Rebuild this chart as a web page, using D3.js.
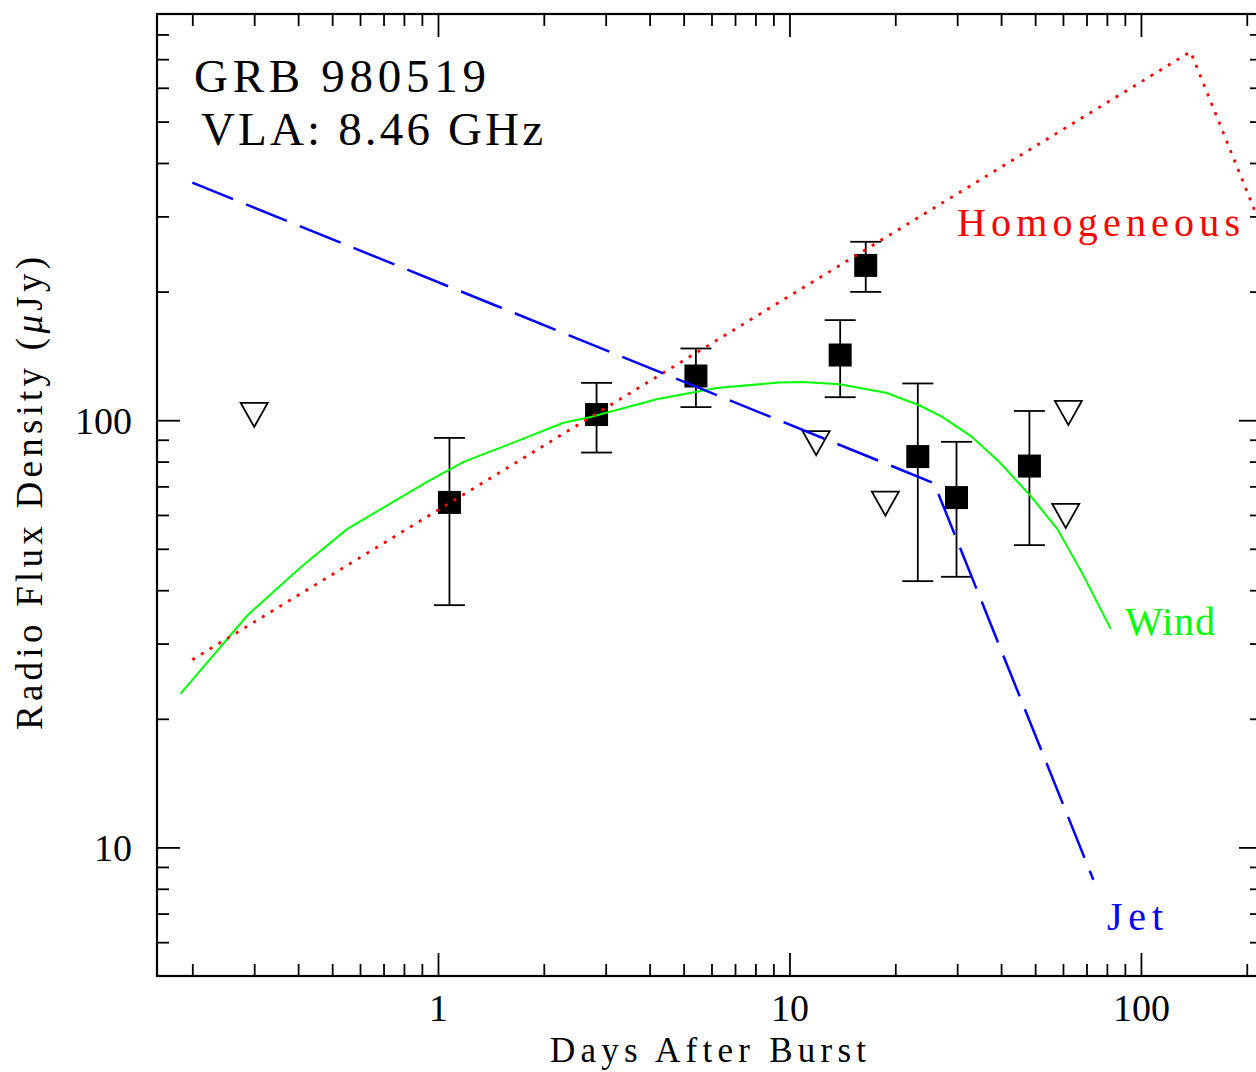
<!DOCTYPE html>
<html><head><meta charset="utf-8">
<script src="https://cdn.jsdelivr.net/npm/d3@7"></script>
<style>body{margin:0;background:#fff;overflow:hidden;} svg{display:block;}</style>
</head><body>
<svg id="c" width="1256" height="1072"></svg>
<script>
// ---- data (days after burst, flux density in microJy) ----
const detT  = [1.078, 2.826, 5.418, 13.94, 16.48, 23.18, 29.87, 48.16];
const detF  = [64.2, 103.1, 126.9, 142.1, 230.3, 82.2, 65.9, 78.1];
const detLo = [36.9, 84.0, 107.3, 113.2, 199.7, 42.0, 43.0, 51.0];
const detHi = [90.9, 122.3, 147.2, 171.5, 261.6, 121.9, 89.0, 105.1];
const limT  = [0.300, 11.91, 18.74, 62.15, 61.1];
const limF  = [102.9, 88.4, 63.8, 104.0, 59.7];
const homT  = [0.2, 138.4, 221];
const homF  = [27.5, 728.7, 281];
const jetT  = [0.2, 25.8, 73.2];
const jetF  = [360, 71.2, 8.4];
const windT = [0.1853, 0.2867, 0.4063, 0.5514, 0.9306, 1.183, 1.571, 2.276, 2.703, 4.19, 6.204, 9.367, 10.89, 13.87, 18.83, 23.40, 27.21, 32.83, 39.51, 48.54, 57.85, 68.11, 82.01];
const windF = [22.9, 34.9, 45.2, 55.6, 71.7, 79.9, 87.4, 98.6, 101.6, 112.0, 119.0, 122.5, 122.9, 121.4, 115.9, 108.4, 101.8, 91.8, 79.9, 66.5, 55.6, 43.8, 32.5];
const xMajor = [1, 10, 100];
const xMinor = [0.2,0.3,0.4,0.5,0.6,0.7,0.8,0.9,2,3,4,5,6,7,8,9,20,30,40,50,60,70,80,90,200];
const yMajor = [10, 100];
const yMinor = [6,7,8,9,20,30,40,50,60,70,80,90,200,300,400,500,600,700,800];
const xTitle = "Days After Burst";
const yTitle = ["Radio Flux Density (", "\u03BC", "Jy)"];
const title1 = "GRB 980519";
const title2 = "VLA: 8.46 GHz";

// ---- layout ----
const L = 157, R = 1262, T = 14, B = 976;
const FONT = "'Liberation Serif', 'Times New Roman', serif";
const svg = d3.select("#c");
const x = d3.scaleLog().domain([0.1587, 221]).range([L, R]);
const y = d3.scaleLog().domain([5, 893]).range([B, T]);

svg.append("defs").append("clipPath").attr("id", "clip")
  .append("rect").attr("x", L).attr("y", T).attr("width", R - L).attr("height", B - T);

function styleAxis(g) {
  g.select(".domain").remove();
  g.selectAll(".tick line").attr("stroke", "#000").attr("stroke-width", 1.8);
  g.selectAll("text").attr("font-family", FONT).attr("font-size", 38).attr("fill", "#000");
}
const fmt = d => String(d);
// bottom
svg.append("g").attr("transform", `translate(0,${B})`)
  .call(d3.axisBottom(x).tickValues(xMajor).tickSize(-23).tickFormat(fmt))
  .call(styleAxis)
  .call(g => g.selectAll("text").attr("y", 45).attr("dy", 0));
svg.append("g").attr("transform", `translate(0,${B})`)
  .call(d3.axisBottom(x).tickValues(xMinor).tickSize(-12).tickFormat(""))
  .call(styleAxis);
// top
svg.append("g").attr("transform", `translate(0,${T})`)
  .call(d3.axisTop(x).tickValues(xMajor).tickSize(-23).tickFormat(""))
  .call(styleAxis);
svg.append("g").attr("transform", `translate(0,${T})`)
  .call(d3.axisTop(x).tickValues(xMinor).tickSize(-12).tickFormat(""))
  .call(styleAxis);
// left
svg.append("g").attr("transform", `translate(${L},0)`)
  .call(d3.axisLeft(y).tickValues(yMajor).tickSize(-23).tickPadding(25).tickFormat(fmt))
  .call(styleAxis)
  .call(g => g.selectAll("text").attr("dy", 13));
svg.append("g").attr("transform", `translate(${L},0)`)
  .call(d3.axisLeft(y).tickValues(yMinor).tickSize(-12).tickFormat(""))
  .call(styleAxis);
// right
svg.append("g").attr("transform", `translate(${R},0)`)
  .call(d3.axisRight(y).tickValues(yMajor).tickSize(-23).tickFormat(""))
  .call(styleAxis);
svg.append("g").attr("transform", `translate(${R},0)`)
  .call(d3.axisRight(y).tickValues(yMinor).tickSize(-12).tickFormat(""))
  .call(styleAxis);

// frame
svg.append("rect").attr("x", L).attr("y", T).attr("width", R - L).attr("height", B - T)
  .attr("fill", "none").attr("stroke", "#000").attr("stroke-width", 2.2);

// ---- data points ----
const det = detT.map((t, i) => ({t, f: detF[i], lo: detLo[i], hi: detHi[i]}));
const pts = svg.append("g");
const cap = 15.5;
det.forEach(d => {
  const cx = x(d.t);
  pts.append("line").attr("x1", cx).attr("x2", cx).attr("y1", y(d.lo)).attr("y2", y(d.hi))
    .attr("stroke", "#000").attr("stroke-width", 1.8);
  [d.lo, d.hi].forEach(v => pts.append("line")
    .attr("x1", cx - cap).attr("x2", cx + cap).attr("y1", y(v)).attr("y2", y(v))
    .attr("stroke", "#000").attr("stroke-width", 1.8));
});
pts.selectAll("rect.sq").data(det).join("rect").attr("class", "sq")
  .attr("x", d => x(d.t) - 11.5).attr("y", d => y(d.f) - 11.5)
  .attr("width", 23).attr("height", 23).attr("fill", "#000");

const lim = limT.map((t, i) => ({t, f: limF[i]}));
pts.selectAll("path.tri").data(lim).join("path").attr("class", "tri")
  .attr("d", d => {
    const cx = x(d.t), cy = y(d.f);
    return `M${cx - 13.5},${cy - 12}L${cx + 13.5},${cy - 12}L${cx},${cy + 12}Z`;
  })
  .attr("fill", "none").attr("stroke", "#000").attr("stroke-width", 1.8).attr("stroke-linejoin", "miter");

// ---- model curves ----
const line = d3.line().x(d => x(d[0])).y(d => y(d[1]));
const curves = svg.append("g").attr("clip-path", "url(#clip)");
curves.append("path").datum(windT.map((t, i) => [t, windF[i]])).attr("d", line)
  .attr("fill", "none").attr("stroke", "#00ff00").attr("stroke-width", 2);
curves.append("path").datum(homT.map((t, i) => [t, homF[i]])).attr("d", line)
  .attr("fill", "none").attr("stroke", "#ff0000").attr("stroke-width", 2.8)
  .attr("stroke-dasharray", "3,7.2");
curves.append("path").datum(jetT.map((t, i) => [t, jetF[i]])).attr("d", line)
  .attr("fill", "none").attr("stroke", "#0000ff").attr("stroke-width", 2.5)
  .attr("stroke-dasharray", "44,14");

// ---- text ----
function txt(s, xx, yy, size, color, len) {
  const t = svg.append("text").attr("x", xx).attr("y", yy)
    .attr("font-family", FONT).attr("font-size", size).attr("fill", color).text(s);
  if (len) t.attr("textLength", len).attr("lengthAdjust", "spacing");
  return t;
}
txt(title1, 194, 92, 47, "#000", 292);
txt(title2, 201, 145, 47, "#000", 342);
txt("Homogeneous", 957, 236, 40, "#ff0000", 283);
txt("Wind", 1125, 635, 40, "#00ff00", 90);
txt("Jet", 1107, 930, 40, "#0000ff", 56);
txt(xTitle, 550, 1062, 35, "#000", 316);

const yl = svg.append("text")
  .attr("transform", "translate(42,493.5) rotate(-90)")
  .attr("x", -236.5).attr("y", 0)
  .attr("font-family", FONT).attr("font-size", 37).attr("fill", "#000")
  .attr("textLength", 473).attr("lengthAdjust", "spacing");
yl.append("tspan").text(yTitle[0]);
yl.append("tspan").attr("font-style", "italic").text(yTitle[1]);
yl.append("tspan").text(yTitle[2]);
</script>
</body></html>
